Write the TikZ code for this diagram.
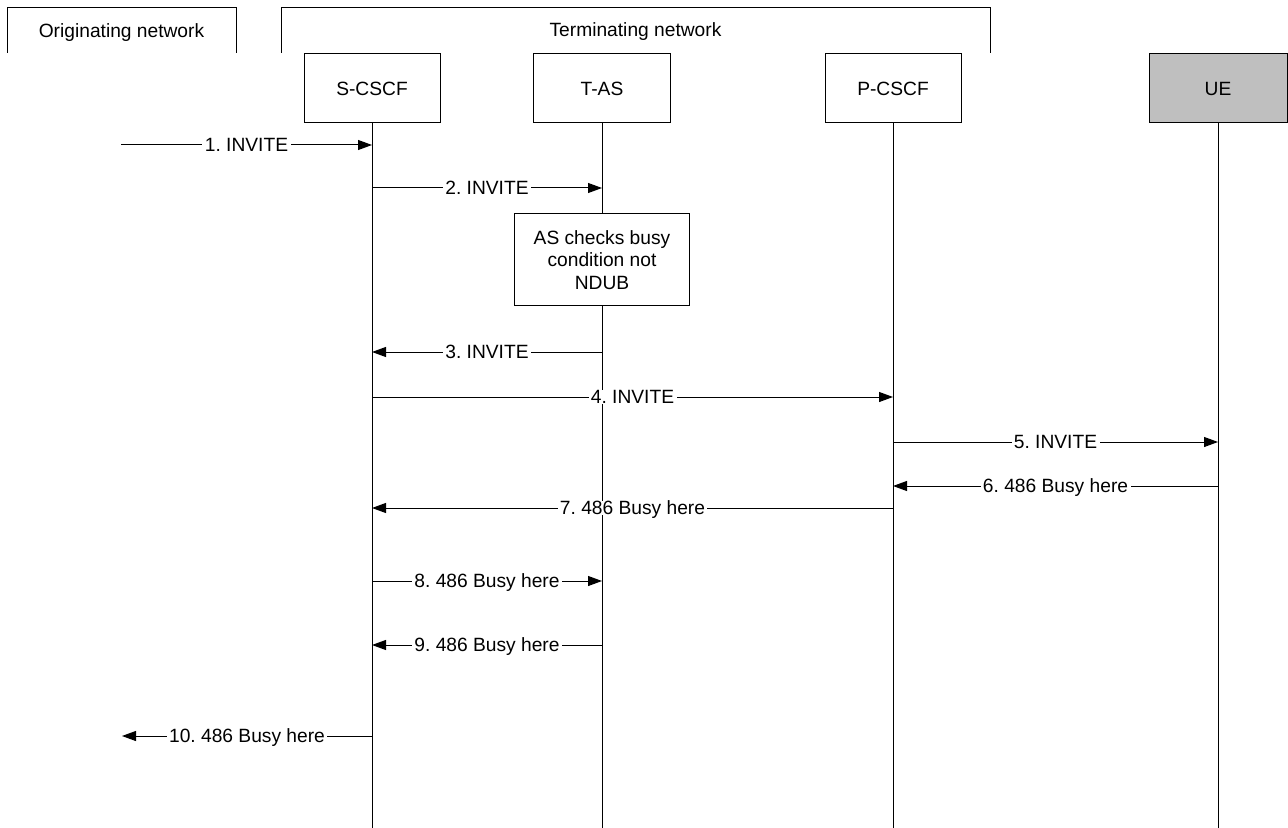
\documentclass[tikz,border=0pt]{standalone}
\usepackage{fontspec}
\setmainfont{Liberation Sans}
\usetikzlibrary{arrows.meta,positioning,calc}

\tikzset{
  entity/.style={draw, minimum width=68pt, minimum height=34.5pt, inner sep=0pt},
  msg/.style={-{Triangle[length=7pt,width=5pt]}},
  lbl/.style={fill=white, inner xsep=1.2pt, inner ysep=0pt, text height=6.9pt, text depth=0pt},
  netlbl/.style={inner sep=0pt, text height=6.9pt, text depth=0pt},
}

\begin{document}
\frenchspacing
\begin{tikzpicture}[x=0.5pt,y=-0.5pt, line width=0.5pt,
    every node/.style={font=\fontsize{9.6pt}{11.25pt}\selectfont}]
    \useasboundingbox (0,0) rectangle (1288,828);

    % network brackets
    \draw (7,53) -- (7,8) -- (236,8) -- (236,53);
    \node[netlbl] (orignet) at (121.5,31) {Originating network};
    \draw (281,53) -- (281,8) -- (990,8) -- (990,53);
    \node[netlbl] (termnet) at (635.5,30) {Terminating network};

    % entities
    \node[entity] (scscf) at (372,88.5) {S-CSCF};
    \node[entity, minimum width=68.5pt] (tas) at (602,88.5) {T-AS};
    \node[entity] (pcscf) at (893,88.5) {P-CSCF};
    \node[entity, minimum width=69pt, fill=gray!50] (ue) at (1218,88.5) {UE};

    % lifelines
    \draw (scscf.south) -- (scscf |- 0,828);
    \draw (tas.south) -- (tas |- 0,828);
    \draw (pcscf.south) -- (pcscf |- 0,828);
    \draw (ue.south) -- (ue |- 0,828);

    % loose ends towards the originating network
    \coordinate (origin) at (121,145);
    \coordinate (back) at (122,736);

    \draw[msg] (origin) -- (scscf |- origin) node[lbl, midway] {1. INVITE};
    \draw[msg] (scscf |- 0,188) -- (tas |- 0,188) node[lbl, midway] {2. INVITE};

    % service logic in the AS
    \node[draw, fill=white, align=center, minimum width=87.5pt, minimum height=46pt,
          inner sep=0pt] (check) at (602,260) {AS checks busy\\condition not\\NDUB};

    \draw[msg] (tas |- 0,352) -- (scscf |- 0,352) node[lbl, midway] {3. INVITE};
    \draw[msg] (scscf |- 0,397) -- (pcscf |- 0,397) node[lbl, midway] {4. INVITE};
    \draw[msg] (pcscf |- 0,442) -- (ue |- 0,442) node[lbl, midway] {5. INVITE};
    \draw[msg] (ue |- 0,486) -- (pcscf |- 0,486) node[lbl, midway] {6. 486 Busy here};
    \draw[msg] (pcscf |- 0,508) -- (scscf |- 0,508) node[lbl, midway] {7. 486 Busy here};
    \draw[msg] (scscf |- 0,581) -- (tas |- 0,581) node[lbl, midway] {8. 486 Busy here};
    \draw[msg] (tas |- 0,645) -- (scscf |- 0,645) node[lbl, midway] {9. 486 Busy here};
    \draw[msg] (scscf |- back) -- (back) node[lbl, midway] {10. 486 Busy here};
\end{tikzpicture}
\end{document}
